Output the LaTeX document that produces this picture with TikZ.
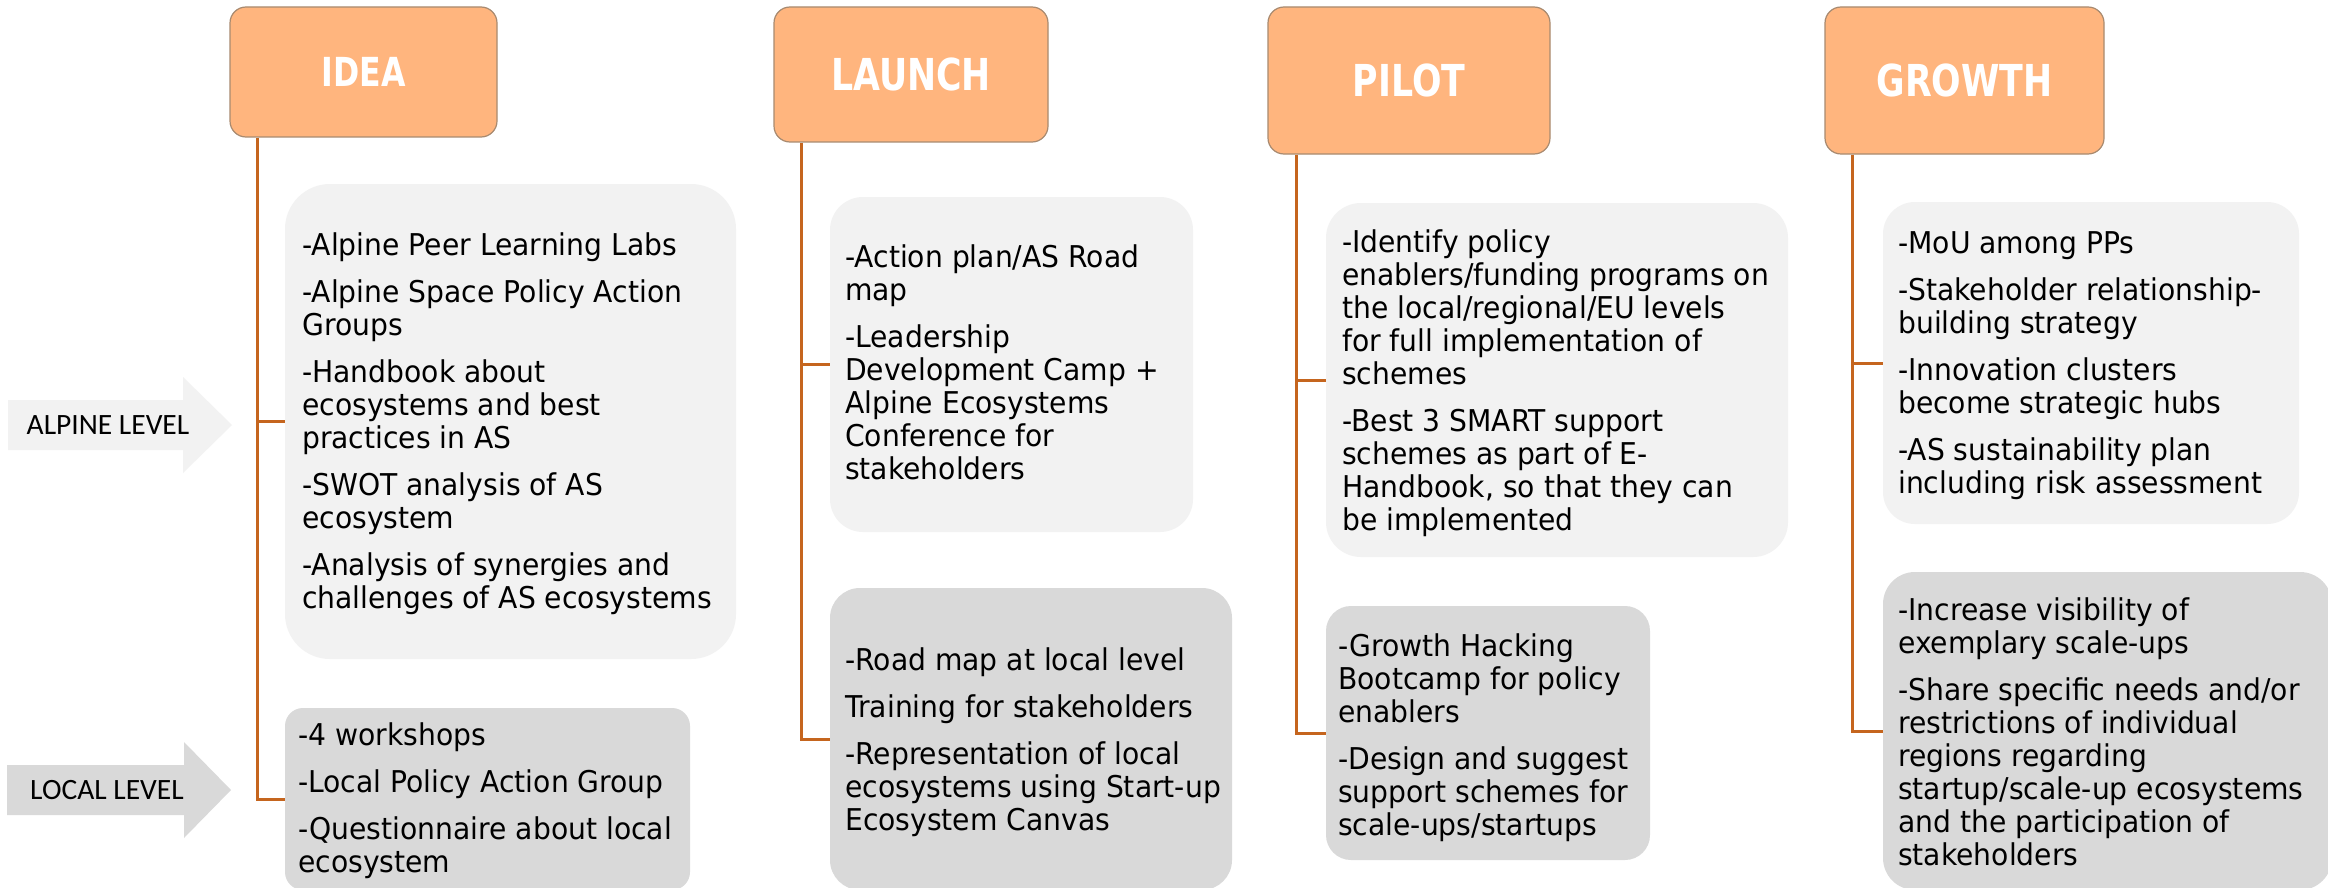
\documentclass[tikz,border=0pt]{standalone}
\usepackage{fontspec}
\newfontfamily\bodyfont[FakeStretch=0.94]{DejaVu Sans}
\newfontfamily\headfont[FakeStretch=0.79]{DejaVu Sans}
\newfontfamily\lvlfont{Carlito}
\definecolor{orangefill}{HTML}{FFB57E}
\definecolor{orangeedge}{HTML}{A88A70}
\definecolor{connclr}{HTML}{C5651E}
\definecolor{lightgrey}{HTML}{F2F2F2}
\definecolor{midgrey}{HTML}{D9D9D9}
\newcommand\bxl[1]{\hbox{#1}}
\newcommand\pgap{\vskip 14pt}
\newcommand\txtblock[1]{\vtop{\baselineskip=33pt\lineskiplimit=-100pt\lineskip=0pt #1}}
\tikzset{
  titlebox/.style={draw=orangeedge, line width=1.2pt, fill=orangefill, rounded corners=16pt,
    text=white, font=\headfont\bfseries\fontsize{44}{48}\selectfont, inner sep=0pt},
  alpinebox/.style={fill=lightgrey, draw=none, inner sep=0pt},
  localbox/.style={fill=midgrey, draw=none, inner sep=0pt},
  bodytext/.style={anchor=base west, inner sep=0pt, text=black,
    font=\bodyfont\fontsize{30}{33}\selectfont},
  conn/.style={draw=connclr, line width=3pt},
  lvltext/.style={font=\lvlfont\fontsize{29.5}{32}\selectfont, inner sep=0pt, text=black}
}
\begin{document}
\begin{tikzpicture}[x=1pt,y=-1pt]
\path[use as bounding box] (0,0) rectangle (2328,888);
\clip (0,0) rectangle (2328,888);
\fill[white] (0,0) rectangle (2328,888);

% level arrows
\fill[lightgrey] (8,400) -- (183,400) -- (183,377) -- (232,425) -- (183,473) -- (183,450) -- (8,450) -- cycle;
\fill[midgrey] (7,765) -- (184,765) -- (184,742) -- (231,790) -- (184,838) -- (184,815) -- (7,815) -- cycle;
\node[lvltext] (alpinelvl) at (108,425) {ALPINE LEVEL};
\node[lvltext] (locallvl) at (107,790) {LOCAL LEVEL};

% title boxes
\node[titlebox, font=\headfont\bfseries\fontsize{40}{44}\selectfont, minimum width=267pt, minimum height=130pt] (idea) at (363.5,72) {IDEA};
\node[titlebox, minimum width=274pt, minimum height=135pt] (launch) at (911,74.5) {LAUNCH};
\node[titlebox, minimum width=282pt, minimum height=147pt] (pilot) at (1409,80.5) {PILOT};
\node[titlebox, minimum width=279pt, minimum height=147pt] (growth) at (1964.5,80.5) {GROWTH};

% content boxes
\node[alpinebox, rounded corners=45pt, minimum width=451pt, minimum height=475pt] (ideaA) at (510.5,421.5) {};
\node[localbox, rounded corners=18pt, minimum width=405pt, minimum height=182pt] (ideaL) at (487.5,799) {};
\node[alpinebox, rounded corners=33pt, minimum width=363pt, minimum height=335pt] (launchA) at (1011.5,364.5) {};
\node[localbox, rounded corners=30pt, minimum width=402pt, minimum height=302pt] (launchL) at (1031,739) {};
\node[alpinebox, rounded corners=35pt, minimum width=462pt, minimum height=354pt] (pilotA) at (1557,380) {};
\node[localbox, rounded corners=25pt, minimum width=324pt, minimum height=254pt] (pilotL) at (1488,733) {};
\node[alpinebox, rounded corners=32pt, minimum width=416pt, minimum height=322pt] (growthA) at (2091,363) {};
\node[localbox, rounded corners=32pt, minimum width=449pt, minimum height=318pt] (growthL) at (2107.5,731) {};

% connectors
\coordinate (ideaX) at ([xshift=28pt]idea.south west);
\coordinate (launchX) at ([xshift=28pt]launch.south west);
\coordinate (pilotX) at ([xshift=29pt]pilot.south west);
\coordinate (growthX) at ([xshift=28pt]growth.south west);
\draw[conn] (ideaX) |- (ideaL.west);
\draw[conn] (ideaX |- ideaA.west) -- (ideaA.west);
\draw[conn] (launchX) |- (launchL.west);
\draw[conn] (launchX |- launchA.west) -- (launchA.west);
\draw[conn] (pilotX) |- (pilotL.west);
\draw[conn] (pilotX |- pilotA.west) -- (pilotA.west);
\draw[conn] (growthX) |- (growthL.west);
\draw[conn] (growthX |- growthA.west) -- (growthA.west);

% texts
\node[bodytext] (ideaAt) at (302,255) {\txtblock{%
\bxl{-Alpine Peer Learning Labs}\pgap
\bxl{-Alpine Space Policy Action}
\bxl{Groups}\pgap
\bxl{-Handbook about}
\bxl{ecosystems and best}
\bxl{practices in AS}\pgap
\bxl{-SWOT analysis of AS}
\bxl{ecosystem}\pgap
\bxl{-Analysis of synergies and}
\bxl{challenges of AS ecosystems}}};

\node[bodytext] (ideaLt) at (298,745) {\txtblock{%
\bxl{-4 workshops}\pgap
\bxl{-Local Policy Action Group}\pgap
\bxl{-Questionnaire about local}
\bxl{ecosystem}}};

\node[bodytext] (launchAt) at (845,267) {\txtblock{%
\bxl{-Action plan/AS Road}
\bxl{map}\pgap
\bxl{-Leadership}
\bxl{Development Camp +}
\bxl{Alpine Ecosystems}
\bxl{Conference for}
\bxl{stakeholders}}};

\node[bodytext] (launchLt) at (845,670) {\txtblock{%
\bxl{-Road map at local level}\pgap
\bxl{Training for stakeholders}\pgap
\bxl{-Representation of local}
\bxl{ecosystems using Start-up}
\bxl{Ecosystem Canvas}}};

\node[bodytext] (pilotAt) at (1342,252) {\txtblock{%
\bxl{-Identify policy}
\bxl{enablers/funding programs on}
\bxl{the local/regional/EU levels}
\bxl{for full implementation of}
\bxl{schemes}\pgap
\bxl{-Best 3 SMART support}
\bxl{schemes as part of E-}
\bxl{Handbook, so that they can}
\bxl{be implemented}}};

\node[bodytext] (pilotLt) at (1338,656) {\txtblock{%
\bxl{-Growth Hacking}
\bxl{Bootcamp for policy}
\bxl{enablers}\pgap
\bxl{-Design and suggest}
\bxl{support schemes for}
\bxl{scale-ups/startups}}};

\node[bodytext] (growthAt) at (1898,253) {\txtblock{%
\bxl{-MoU among PPs}\pgap
\bxl{-Stakeholder relationship-}
\bxl{building strategy}\pgap
\bxl{-Innovation clusters}
\bxl{become strategic hubs}\pgap
\bxl{-AS sustainability plan}
\bxl{including risk assessment}}};

\node[bodytext] (growthLt) at (1898,620) {\txtblock{%
\bxl{-Increase visibility of}
\bxl{exemplary scale-ups}\pgap
\bxl{-Share specific needs and/or}
\bxl{restrictions of individual}
\bxl{regions regarding}
\bxl{startup/scale-up ecosystems}
\bxl{and the participation of}
\bxl{stakeholders}}};
\end{tikzpicture}
\end{document}
